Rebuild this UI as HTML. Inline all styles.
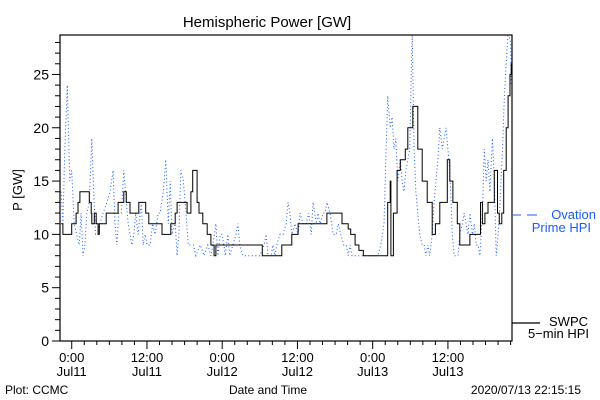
<!DOCTYPE html>
<html><head><meta charset="utf-8"><style>
body{margin:0;background:#fff}
svg{display:block;font-family:"Liberation Sans",sans-serif}
</style></head><body>
<svg id="chart" width="600" height="400" viewBox="0 0 600 400">
<rect width="600" height="400" fill="#fff"/>
<text x="267" y="27" font-size="15" text-anchor="middle">Hemispheric Power [GW]</text>
<text transform="translate(22,190) rotate(-90)" font-size="13" text-anchor="middle">P [GW]</text>
<text x="268" y="394" font-size="12" text-anchor="middle">Date and Time</text>
<text x="5" y="394" font-size="12">Plot: CCMC</text>
<text x="581" y="394" font-size="12" text-anchor="end">2020/07/13 22:15:15</text>
<g id="axes"></g>
<defs><clipPath id="clip"><rect x="60" y="35" width="452" height="306"/></clipPath></defs>
<g id="series" clip-path="url(#clip)"></g>
<rect x="60" y="35" width="452" height="306" fill="none" stroke="#000" stroke-width="1.2"/>
<g>
<line x1="513" y1="215" x2="521" y2="215" stroke="#1a5cff" stroke-width="1"/>
<line x1="527" y1="215" x2="537" y2="215" stroke="#1a5cff" stroke-width="1"/>
<text x="596" y="219" font-size="13" fill="#1a5cff" text-anchor="end">Ovation</text>
<text x="591" y="232" font-size="13" fill="#1a5cff" text-anchor="end">Prime HPI</text>
</g>
<g>
<line x1="512" y1="323" x2="540" y2="323" stroke="#000" stroke-width="1.2"/>
<text x="588" y="326" font-size="13" text-anchor="end">SWPC</text>
<text x="589" y="338" font-size="13" text-anchor="end">5−min HPI</text>
</g>
</svg>
<script>
const swpcHours=[-1.7,-1.4,0.0,0.7,1.0,1.3,2.8,3.1,3.2,3.6,3.9,4.2,4.4,5.5,7.4,8.3,8.7,9.3,10.7,11.8,12.3,14.4,15.8,16.5,16.8,18.4,19.0,19.3,20.0,20.3,20.9,21.6,22.2,22.7,23.0,30.4,33.5,35.1,36.1,40.7,43.1,44.1,44.5,45.2,45.8,46.5,49.2,50.4,50.8,50.9,51.3,51.9,52.4,53.2,53.6,54.4,54.9,55.2,55.9,56.7,57.5,58.0,58.7,59.9,60.3,60.8,61.5,61.9,63.2,63.5,64.6,65.2,65.5,65.9,66.4,67.4,67.9,68.2,68.6,68.9,69.3,69.6,69.9,70.1,70.3];
const swpcValues=[11,10,11,12,13,14,13,12,11,12,11,10,11,12,13,14,13,12,13,12,11,10,11,12,13,12,14,16,13,12,11,10,9,8,9,8,9,10,11,12,11,10.5,10,9,8.5,8,8,13,15,8,12,16,17,18,20,22,22,18,15,13,10,11,13,17,15,13,11,9,9,10,10,13,11,12,13,16,12,11,12,16,20,23,25,26,26];
const ovationHours=[-1.7,-1.4,-1.1,-0.7,-0.4,-0.3,0.0,0.4,0.8,1.2,1.5,1.8,2.1,2.4,2.8,3.2,3.5,3.8,4.2,4.5,5.0,5.6,6.1,6.6,6.9,7.2,7.5,7.9,8.3,8.7,9.0,9.3,9.6,9.9,10.2,10.6,11.1,11.4,11.7,12.0,12.5,12.9,13.3,13.8,14.1,14.6,15.0,15.4,15.7,16.0,16.5,16.8,17.1,17.4,17.8,18.1,18.6,18.9,19.4,19.8,20.5,21.1,21.7,22.2,22.5,23.0,23.3,23.7,24.0,24.5,24.9,25.2,25.7,26.2,26.5,26.8,27.3,27.8,28.4,29.2,30.0,30.7,31.0,31.3,31.8,32.1,32.4,32.7,33.2,33.7,34.2,34.5,34.8,35.1,35.6,36.1,36.4,36.9,37.4,37.8,38.2,38.5,39.0,39.3,39.6,40.1,40.4,40.7,41.2,41.7,42.2,42.5,42.9,43.4,43.8,44.1,44.4,44.7,45.2,45.7,46.3,46.9,47.6,48.2,48.8,49.3,49.8,50.1,50.4,50.8,51.1,51.4,51.7,52.0,52.4,52.7,53.0,53.3,53.6,53.9,54.3,54.6,54.9,55.2,55.5,55.9,56.2,56.5,56.8,57.1,57.5,57.8,58.1,58.4,58.7,59.1,59.4,59.7,60.0,60.3,60.7,61.0,61.3,61.6,61.9,62.3,62.6,62.9,63.2,63.5,63.9,64.2,64.5,64.8,65.1,65.5,65.8,66.1,66.4,66.7,67.1,67.4,67.7,68.0,68.3,68.7,69.0,69.3,69.6,70.0,70.1];
const ovationValues=[14,11,18,24,17,15,16,11,10,9,12,8,9,12,13,19,14,10,10,11,12,13,14,16,11,9,12,12,16,13,11,10,9,10,12,10,13,9,10,9,9,11,10,12,12,14,17,11,15,10,11,8,10,16,15,13,9,9,9,8,9,8,9,8,9,11,8,10,10,8,10,8,9,10,11,9,8,8,8,8,8,9,10,8,8,9,8,9,10,10,11,13,12,10,11,10,12,11,11,12,10,13,11,12,11,12,12,13,12,10,10,11,10,9,9,8,9,8,8,8,8,8,8,8,8,9,11,17,23,20,21,18,19,15,17,15,14,16,17,18,29,18,14,12,10,9,9,8,9,8,10,13,15,17,20,18,19,20,18,16,10,8,8,8,10,11,12,11,10,12,10,11,9,9,8,12,18,15,17,14,19,15,8,10,13,18,23,26,29,28,24];
const yTickLabels=["0","5","10","15","20","25"];
const xTickLabels=[["0:00","Jul11"],["12:00","Jul11"],["0:00","Jul12"],["12:00","Jul12"],["0:00","Jul13"],["12:00","Jul13"]];

const NS="http://www.w3.org/2000/svg";
const X0=60,X1=512,Y0=341,Y1=35,HMIN=-1.87,HMAX=70.22,VMAX=28.7;
const xs=h=>X0+(h-HMIN)/(HMAX-HMIN)*(X1-X0);
const ys=v=>Y0-v/VMAX*(Y0-Y1);
function mk(tag,attrs,parent){const e=document.createElementNS(NS,tag);for(const k in attrs)e.setAttribute(k,attrs[k]);parent.appendChild(e);return e;}
const axes=document.getElementById('axes');
for(let v=0;v<=28;v++){
  const major=v%5===0;
  const t=mk('line',{x1:X0-(major?8:5),x2:X0,y1:ys(v),y2:ys(v),stroke:'#000','stroke-width':1},axes);
  
  
}
yTickLabels.forEach(s=>{
  const t=mk('text',{x:X0-11,y:ys(+s)+5,'font-size':14,'text-anchor':'end'},axes);
  t.textContent=s;
  
  
});
for(let h=0;h<=70;h+=2){
  const major=h%12===0;
  const t=mk('line',{x1:xs(h),x2:xs(h),y1:Y0,y2:Y0+(major?8:4),stroke:'#000','stroke-width':1},axes);
  
  
}
xTickLabels.forEach((p,i)=>{
  const t=mk('text',{x:xs(i*12),y:362,'font-size':13,'text-anchor':'middle'},axes);
  t.textContent=p[0];
  
  
  const d=mk('text',{x:xs(i*12),y:376,'font-size':13,'text-anchor':'middle'},axes);
  d.textContent=p[1];
  
  
});
const ser=document.getElementById('series');
let pb=ovationHours.map((h,i)=>xs(h).toFixed(1)+','+ys(ovationValues[i]).toFixed(1)).join(' ');
const ov=mk('polyline',{points:pb,fill:'none',stroke:'#1a5cff','stroke-width':1,'stroke-dasharray':'1 2.5'},ser);


let pts=[];
swpcHours.forEach((h,i)=>{
  if(i>0)pts.push(xs(h).toFixed(1)+','+ys(swpcValues[i-1]).toFixed(1));
  pts.push(xs(h).toFixed(1)+','+ys(swpcValues[i]).toFixed(1));
});
const sw=mk('polyline',{points:pts.join(' '),fill:'none',stroke:'#000','stroke-width':1},ser);


</script>
</body></html>
